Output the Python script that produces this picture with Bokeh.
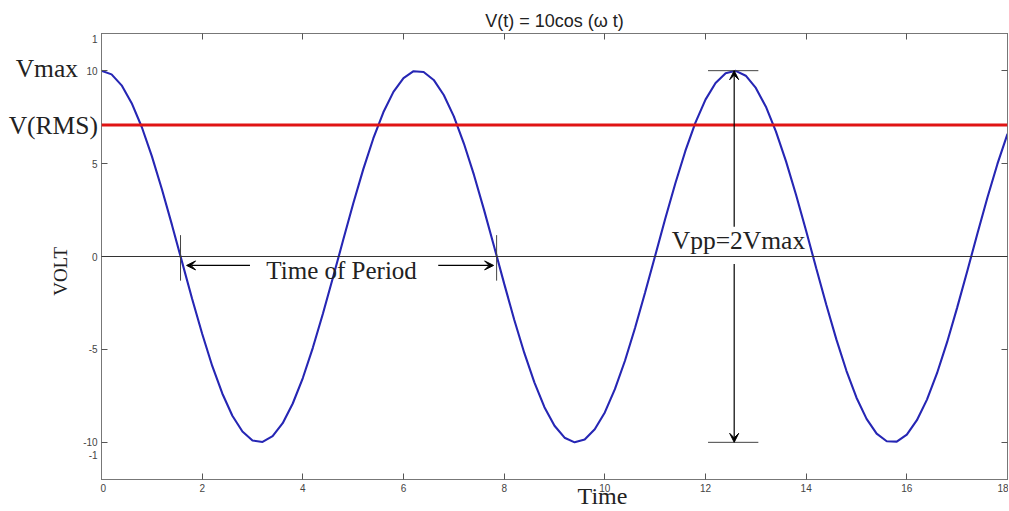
import math
from bokeh.plotting import figure
from bokeh.layouts import row
from bokeh.models import (LinearAxis, FixedTicker, Label, Arrow, VeeHead, Span, Range1d)
from bokeh.core.properties import value
from bokeh.embed import file_html
from bokeh.resources import INLINE

# ---- data ----
time_s = [0.0, 0.2, 0.4, 0.6, 0.8, 1.0, 1.2, 1.4, 1.6, 1.8,
          2.0, 2.2, 2.4, 2.6, 2.8, 3.0, 3.2, 3.4, 3.6, 3.8,
          4.0, 4.2, 4.4, 4.6, 4.8, 5.0, 5.2, 5.4, 5.6, 5.8,
          6.0, 6.2, 6.4, 6.6, 6.8, 7.0, 7.2, 7.4, 7.6, 7.8,
          8.0, 8.2, 8.4, 8.6, 8.8, 9.0, 9.2, 9.4, 9.6, 9.8,
          10.0, 10.2, 10.4, 10.6, 10.8, 11.0, 11.2, 11.4, 11.6, 11.8,
          12.0, 12.2, 12.4, 12.6, 12.8, 13.0, 13.2, 13.4, 13.6, 13.8,
          14.0, 14.2, 14.4, 14.6, 14.8, 15.0, 15.2, 15.4, 15.6, 15.8,
          16.0, 16.2, 16.4, 16.6, 16.8, 17.0, 17.2, 17.4, 17.6, 17.8,
          18.0]
volt = [10.00, 9.80, 9.21, 8.25, 6.97, 5.40, 3.62, 1.70, -0.29, -2.27,
        -4.16, -5.89, -7.37, -8.57, -9.42, -9.90, -9.98, -9.67, -8.97, -7.91,
        -6.54, -4.90, -3.07, -1.12, 0.87, 2.84, 4.69, 6.35, 7.76, 8.86,
        9.60, 9.97, 9.93, 9.50, 8.69, 7.54, 6.08, 4.39, 2.51, 0.54,
        -1.46, -3.40, -5.19, -6.77, -8.11, -9.11, -9.75, -10.00, -9.85, -9.30,
        -8.39, -7.14, -5.61, -3.85, -1.94, 0.04, 2.03, 3.93, 5.68, 7.20,
        8.44, 9.34, 9.86, 9.99, 9.73, 9.07, 8.06, 6.72, 5.12, 3.31,
        1.37, -0.63, -2.60, -4.46, -6.15, -7.60, -8.74, -9.53, -9.94, -9.96,
        -9.58, -8.81, -7.70, -6.28, -4.61, -2.75, -0.79, 1.21, 3.16, 4.98,
        6.60]
v_max = 10.0
v_rms = 7.07
period_start = 1.57
period_end = 7.85
vpp_time = 12.57
x_ticks = [0, 2, 4, 6, 8, 10, 12, 14, 16, 18]
y_ticks = [-10, -5, 0, 5, 10]
y_tick_labels = ["-10", "-5", "0", "5", "10"]
y_stray_values = [11.7, -10.7]          # partial labels visible in the picture
y_stray_labels = ["1", "-1"]
side_labels = ["Vmax", "V(RMS)"]
side_values = [v_max, v_rms]

SERIF = "Liberation Serif"
SANS = "Liberation Sans"
TOP, BOTTOM, H = 33, 30, 511

y_range = Range1d(-12, 12)

# ---------------- main figure ----------------
p = figure(width=908, height=H, x_range=Range1d(0, 18), y_range=y_range,
           output_backend="svg", toolbar_location=None,
           min_border_left=1, min_border_right=1, min_border_top=TOP, min_border_bottom=BOTTOM)
p.grid.visible = False
p.outline_line_color = "#777777"
p.background_fill_color = "white"
p.border_fill_color = "white"

p.title.text = "V(t) = 10cos (\u03c9 t)"
p.title.align = "center"
p.title.vertical_align = "bottom"
p.title.text_font = SANS
p.title.text_font_size = "18px"
p.title.text_font_style = "normal"
p.title.text_color = "#222222"
p.title.standoff = 5

p.xaxis.ticker = FixedTicker(ticks=x_ticks)
p.yaxis.ticker = FixedTicker(ticks=y_ticks)

top_axis = LinearAxis(ticker=FixedTicker(ticks=x_ticks))
right_axis = LinearAxis(ticker=FixedTicker(ticks=y_ticks))
p.add_layout(top_axis, "above")
p.add_layout(right_axis, "right")

for ax in p.axis:
    ax.axis_line_color = "#777777"
    ax.major_tick_line_color = "#555555"
    ax.major_tick_in = 6
    ax.major_tick_out = 0
    ax.minor_tick_line_color = None
    ax.major_label_text_font = SANS
    ax.major_label_text_font_size = "10px"
    ax.major_label_text_color = "#444444"
    ax.major_label_standoff = 4
# tick labels of the left axis are drawn in the side panel so the big side texts can overlap them
for ax in (top_axis, right_axis, p.left[0]):
    ax.major_label_text_font_size = "0px"
    ax.major_label_standoff = 0

bottom_axis = p.below[0]
# non-breaking spaces shift the label to the right, as in the picture
bottom_axis.axis_label = "\u00a0" * 16 + "Time"
bottom_axis.axis_label_text_font = SERIF
bottom_axis.axis_label_text_font_size = "24px"
bottom_axis.axis_label_text_font_style = "normal"
bottom_axis.axis_label_text_color = "#222222"
bottom_axis.axis_label_standoff = -12

# reference lines
p.add_layout(Span(location=0, dimension="width", line_color="#333333", line_width=1.2))
p.add_layout(Span(location=v_rms, dimension="width", line_color="#e01414", line_width=3))

# curve
p.line(time_s, volt, line_color="#2626b4", line_width=2.1)

# period markers
p.segment(x0=[period_start, period_end], y0=[-1.3, -1.3],
          x1=[period_start, period_end], y1=[1.15, 1.15], line_color="#444444", line_width=1)
p.add_layout(Arrow(end=VeeHead(size=9, fill_color="black", line_color="black"),
                   x_start=2.95, y_start=-0.48, x_end=period_start + 0.12, y_end=-0.48,
                   line_width=1.3, line_color="black"))
p.add_layout(Arrow(end=VeeHead(size=9, fill_color="black", line_color="black"),
                   x_start=6.69, y_start=-0.48, x_end=period_end - 0.06, y_end=-0.48,
                   line_width=1.3, line_color="black"))

# Vpp markers
p.segment(x0=[vpp_time - 0.52, vpp_time - 0.52], y0=[v_max, -v_max],
          x1=[vpp_time + 0.48, vpp_time + 0.48], y1=[v_max, -v_max],
          line_color="#444444", line_width=1)
p.add_layout(Arrow(end=VeeHead(size=9, fill_color="black", line_color="black"),
                   x_start=vpp_time, y_start=1.6, x_end=vpp_time, y_end=v_max,
                   line_width=1.2, line_color="black"))
p.add_layout(Arrow(end=VeeHead(size=9, fill_color="black", line_color="black"),
                   x_start=vpp_time, y_start=-0.4, x_end=vpp_time, y_end=-v_max,
                   line_width=1.2, line_color="black"))

def lab(x, y, text, size, align="left"):
    p.add_layout(Label(x=x, y=y, text=text, text_font=SERIF, text_font_size=size,
                       text_align=align, text_baseline="middle", text_color="#222222"))

lab(4.77, -0.75, "Time of Period", "25px", align="center")
lab(11.33, 0.85, "Vpp=2Vmax", "25.5px")

# ---------------- left side panel (continues the x scale leftwards) ----------------
side = figure(width=100, height=H, x_range=Range1d(-2.022, -0.034), y_range=y_range,
              output_backend="svg", toolbar_location=None,
              min_border_left=0, min_border_right=0, min_border_top=TOP, min_border_bottom=BOTTOM)
side.axis.visible = False
side.grid.visible = False
side.outline_line_color = None
side.background_fill_color = "white"
side.border_fill_color = "white"

side.text(x=[-0.09] * len(y_ticks), y=y_ticks, text=y_tick_labels,
          text_font=value(SANS), text_font_size="10px", text_align="right",
          text_baseline="middle", text_color="#444444")
side.text(x=[-0.09] * len(y_stray_values), y=y_stray_values, text=y_stray_labels,
          text_font=value(SANS), text_font_size="10px", text_align="right",
          text_baseline="middle", text_color="#444444")
side.text(x=[-1.72, -1.86], y=[v_max + 0.1, v_rms], text=side_labels,
          text_font=value(SERIF), text_font_size="25.5px", text_align="left",
          text_baseline="middle", text_color="#222222")
side.text(x=[-0.83], y=[-0.8], text=["VOLT"], angle=math.pi / 2,
          text_font=value(SERIF), text_font_size="19px", text_align="center",
          text_baseline="middle", text_color="#222222")

layout = row(side, p, spacing=0)
open("out.html", "w").write(file_html(layout, INLINE))
